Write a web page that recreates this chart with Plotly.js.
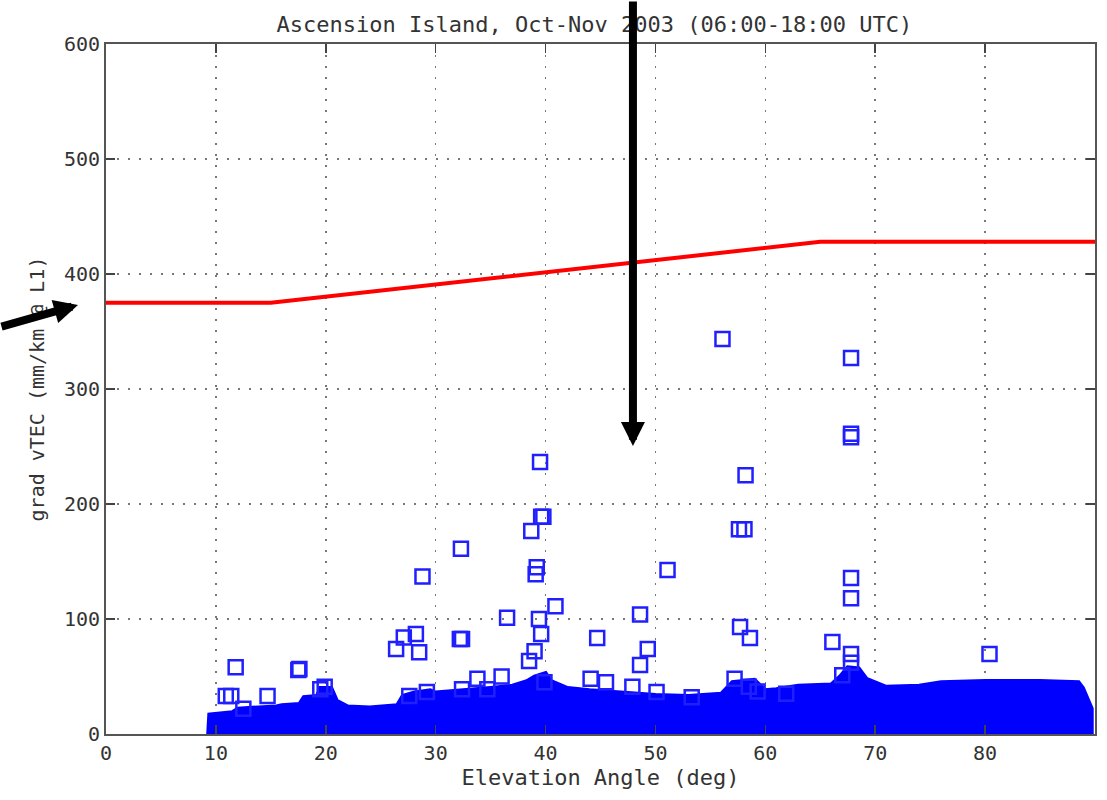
<!DOCTYPE html>
<html>
<head>
<meta charset="utf-8">
<script src="https://cdn.plot.ly/plotly-3.0.1.min.js"></script>
<style>html,body{margin:0;padding:0;background:#fff;}#chart{width:1107px;height:800px;}</style>
</head>
<body>
<div id="chart"></div>
<script>
// Threshold line (red)
const thrX = [0, 15, 65, 90];
const thrY = [375, 375, 428, 428];

// Dense data band: upper envelope of the packed squares
const bandX = [9.3, 9.4, 11.5, 12, 15.5, 16, 17.6, 18, 19.2, 19.5, 20.5, 21, 22, 24, 26.5, 27, 28, 29.5, 30, 33, 35, 37, 38.3, 39, 40, 40.5, 42, 44, 47, 50, 53, 56, 57, 59, 60, 61, 63, 66, 66.8, 67.5, 68.5, 69.2, 71, 74, 76, 80, 85, 88.5, 88.9, 89.7, 89.7];
const bandTop = [0, 17, 19, 22, 24, 25, 26, 32, 33, 40, 40, 29, 24, 23, 25, 33, 36, 38, 36, 38, 40, 42, 46, 50, 53, 46, 40, 38, 36, 34, 33, 35, 45, 47, 38, 39, 42, 43, 50, 58, 57, 48, 41, 42, 45, 46, 46, 45, 40, 22, 0];

// Individual outlier points (open squares)
const outX = [56.1, 67.8, 67.8, 67.8, 58.2, 39.5, 39.6, 39.8, 38.7, 32.3, 57.6, 58.1, 51.1, 39.1, 39.2, 28.8, 67.8, 67.8, 40.9, 39.4, 36.5, 48.6, 39.6, 57.7, 58.6, 44.7, 32.2, 32.4, 28.2, 27.1, 26.4, 28.5, 66.1, 49.3, 48.6, 67.8, 67.8, 80.4, 11.8, 17.5, 17.6, 38.5, 39.0, 11.4, 10.9, 14.7, 12.5, 19.9, 19.5, 33.8, 36.0, 44.1, 45.5, 47.9, 50.1, 57.2, 58.5, 67.0, 29.2, 27.6, 32.4, 39.9, 34.7, 53.3, 59.3, 61.9];
const outY = [343.5, 327, 261, 258, 225, 236.5, 189, 189, 176.5, 161, 178, 178, 142.6, 139, 145, 137, 135.6, 118, 111, 100, 101, 104, 87, 93, 83.5, 83.5, 82.6, 82.6, 87, 84, 74, 71, 80, 74, 60, 69.6, 62, 69.6, 58, 55.6, 56.5, 63.5, 72, 33, 33, 33, 22, 41, 39, 48, 50, 48, 45, 41, 36.5, 48, 41, 51, 36.5, 33, 39, 45, 39, 32, 37, 35];

const tickFont = {family: 'DejaVu Sans Mono', size: 20, color: '#333'};

const traces = [
  {
    x: bandX, y: bandTop, type: 'scatter', mode: 'lines',
    fill: 'tozeroy', fillcolor: '#0000ff',
    line: {color: '#0000ff', width: 4, shape: 'linear'},
    hoverinfo: 'skip', showlegend: false
  },
  {
    x: outX, y: outY, type: 'scatter', mode: 'markers',
    marker: {symbol: 'square-open', size: 14, color: '#2020ff', line: {width: 2.5, color: '#2020ff'}},
    showlegend: false, cliponaxis: false
  },
  {
    x: thrX, y: thrY, type: 'scatter', mode: 'lines',
    line: {color: '#ff0000', width: 4},
    showlegend: false
  }
];

const axisCommon = {
  showline: true, linecolor: '#555', linewidth: 2, mirror: 'ticks',
  ticks: 'inside', ticklen: 9, tickwidth: 1.5, tickcolor: '#444',
  showgrid: true, gridcolor: '#777', gridwidth: 1.6, griddash: '2px,9px',
  zeroline: false, tickfont: tickFont
};

const layout = {
  width: 1107, height: 800,
  margin: {l: 106, r: 12, t: 44, b: 66},
  paper_bgcolor: '#fff', plot_bgcolor: '#fff',
  title: {text: 'Ascension Island, Oct-Nov 2003 (06:00-18:00 UTC)', x: 0.537, xanchor: 'center', y: 0.97, yanchor: 'middle',
          font: {family: 'DejaVu Sans Mono', size: 22, color: '#333'}},
  xaxis: Object.assign({}, axisCommon, {
    range: [0, 90], dtick: 10, tick0: 0,
    title: {text: 'Elevation Angle (deg)', font: {family: 'DejaVu Sans Mono', size: 22, color: '#333'}, standoff: 6}
  }),
  yaxis: Object.assign({}, axisCommon, {
    range: [0, 600], dtick: 100, tick0: 0,
    title: {text: 'grad vTEC (mm/km @ L1)', font: {family: 'DejaVu Sans Mono', size: 20, color: '#333'}, standoff: 14}
  }),
  annotations: [
    {x: 0.5328, y: 0.4174, xref: 'paper', yref: 'paper', ax: 0, ay: -450, text: '', showarrow: true,
     arrowhead: 2, arrowsize: 0.6, arrowwidth: 8, arrowcolor: '#000', standoff: 0},
    {x: -0.0283, y: 0.6217, xref: 'paper', yref: 'paper', ax: -85, ay: 22, text: '', showarrow: true,
     arrowhead: 2, arrowsize: 0.6, arrowwidth: 8, arrowcolor: '#000', standoff: 0}
  ]
};

Plotly.newPlot('chart', traces, layout, {displayModeBar: false, staticPlot: true});
</script>
</body>
</html>
